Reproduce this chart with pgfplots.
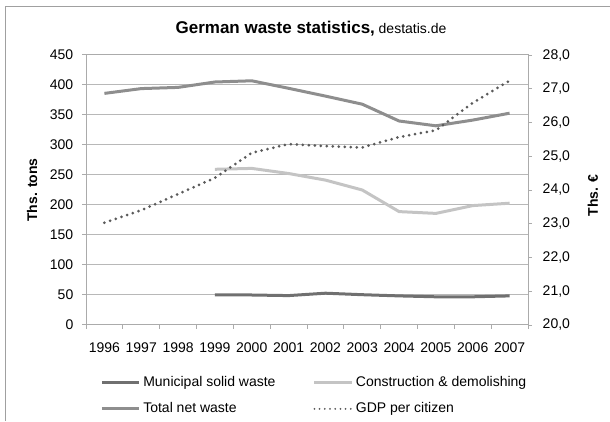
\documentclass[border=0pt]{standalone}
\usepackage{fontspec}
\setmainfont{Liberation Sans}
\usepackage{pgfplots}
\pgfplotsset{compat=1.18}
\definecolor{mswcol}{HTML}{707070}
\definecolor{cdcol}{HTML}{C4C4C4}
\definecolor{tnwcol}{HTML}{8E8E8E}
\definecolor{gdpcol}{HTML}{5A5A5A}
\definecolor{gridcol}{HTML}{B8B8B8}
\definecolor{axiscol}{HTML}{ABABAB}
\definecolor{framecol}{HTML}{A0A0A0}
\begin{document}
\begin{tikzpicture}
\useasboundingbox (0,0) rectangle (457.5pt,315.75pt);
\draw[framecol, line width=0.75pt] (3.75pt,0pt) -- (3.75pt,310.5pt) -- (457.5pt,310.5pt);
\node[inner sep=0pt] at (233.25pt,294.5pt) {{\fontsize{12.75pt}{14pt}\selectfont\bfseries German waste statistics,} {\fontsize{10.5pt}{12pt}\selectfont destatis.de}};
\begin{axis}[
  at={(64.5pt,72pt)}, anchor=south west,
  scale only axis, width=331.5pt, height=202.5pt,
  xmin=-0.5, xmax=11.5, ymin=0, ymax=450,
  xtick={-0.5,0.5,1.5,2.5,3.5,4.5,5.5,6.5,7.5,8.5,9.5,10.5},
  xticklabels={1996,1997,1998,1999,2000,2001,2002,2003,2004,2005,2006,2007},
  extra x ticks={11.5}, extra x tick labels={},
  x tick label style={xshift=13.81pt, yshift=-6.5pt},
  y tick label style={xshift=-3pt},
  xtick pos=bottom, ytick pos=left,
  ytick={0,50,...,450},
  tick align=outside, major tick length=3pt,
  ymajorgrids, grid style={gridcol, line width=0.75pt},
  axis line style={axiscol, line width=0.75pt},
  every tick/.style={axiscol, line width=0.75pt},
  tick label style={font=\fontsize{10.5pt}{12pt}\selectfont, text=black},
  /pgf/number format/assume math mode=true,
  ylabel={Ths. tons},
  ylabel style={at={(axis description cs:-0.122,0.5)}, anchor=center, font=\fontsize{10.5pt}{12pt}\selectfont\bfseries},
]
\addplot[tnwcol, line width=2.25pt] coordinates {(0,386) (1,394) (2,396) (3,405) (4,407) (5,394.5) (6,381.5) (7,368) (8,340) (9,332) (10,341.5) (11,353)};
\addplot[cdcol, line width=2.25pt] coordinates {(3,259.5) (4,261) (5,252.5) (6,241.5) (7,225) (8,189) (9,186) (10,199) (11,203)};
\addplot[mswcol, line width=2.25pt] coordinates {(3,50) (4,50) (5,49) (6,53) (7,50.5) (8,48.5) (9,47) (10,47) (11,48.5)};
\end{axis}
\begin{axis}[
  at={(64.5pt,72pt)}, anchor=south west,
  scale only axis, width=331.5pt, height=202.5pt,
  xmin=-0.5, xmax=11.5, ymin=20, ymax=28,
  axis x line=none, axis y line*=right,
  ytick={20,21,...,28},
  tick align=outside, major tick length=3pt,
  axis line style={axiscol, line width=0.75pt},
  every tick/.style={axiscol, line width=0.75pt},
  tick label style={font=\fontsize{10.5pt}{12pt}\selectfont, text=black},
  y tick label style={xshift=4.5pt, /pgf/number format/.cd, fixed, fixed zerofill, precision=1, use comma, assume math mode=true},
  ylabel={Ths. €},
  ylabel style={at={(axis description cs:1.147,0.48)}, anchor=center, font=\fontsize{10.5pt}{12pt}\selectfont\bfseries},
  legend columns=2,
  legend cell align=left,
  legend image code/.code={\draw[#1] (0pt,0pt) -- (28pt,0pt);},
  legend style={at={(axis description cs:0.0317,-0.178)}, anchor=north west, draw=none, fill=none,
    font=\fontsize{10.5pt}{12pt}\selectfont, inner sep=0pt, row sep=7pt,
    /tikz/every even column/.append style={column sep=26pt}},
]
\addlegendimage{mswcol, line width=2.25pt}
\addlegendentry{Municipal solid waste}
\addlegendimage{cdcol, line width=2.25pt}
\addlegendentry{Construction \& demolishing}
\addlegendimage{tnwcol, line width=2.25pt}
\addlegendentry{Total net waste}
\addplot[gdpcol, line width=2.25pt, line cap=round, dash pattern=on 0pt off 4.5pt,
  legend image post style={line width=1.5pt, dash pattern=on 0pt off 3.9pt}] coordinates {(0,23.03) (1,23.4) (2,23.88) (3,24.36) (4,25.1) (5,25.36) (6,25.3) (7,25.26) (8,25.57) (9,25.77) (10,26.58) (11,27.24)};
\addlegendentry{GDP per citizen}
\end{axis}
\end{tikzpicture}
\end{document}
